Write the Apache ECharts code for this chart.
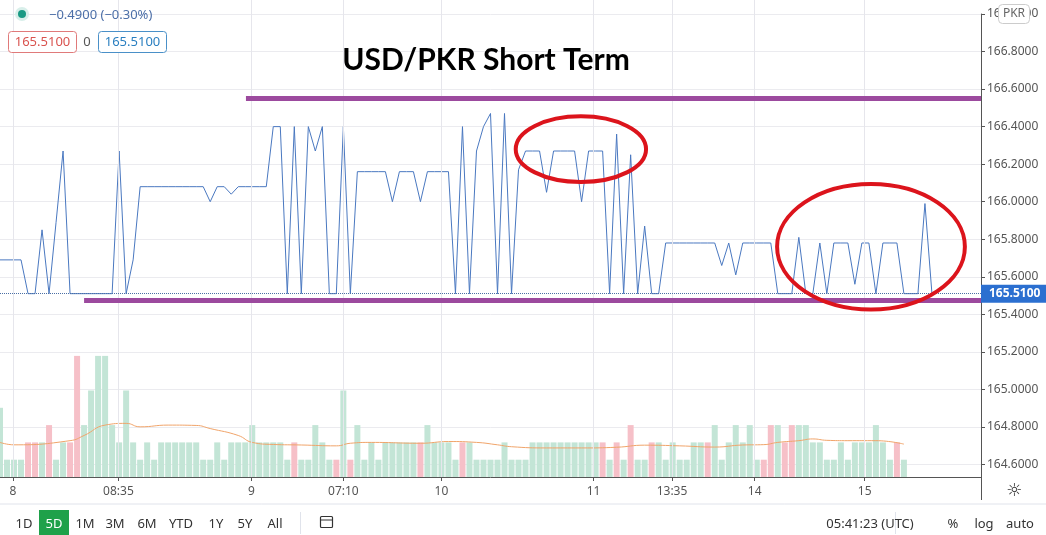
<!DOCTYPE html>
<html><head><meta charset="utf-8">
<script src="https://cdn.jsdelivr.net/npm/echarts@6/dist/echarts.min.js"></script>
<style>html,body{margin:0;padding:0;background:#fff}#c{width:1046px;height:535px}</style>
</head><body><div id="c"></div>
<script>
// ---- data (x index i -> one 5-min slot) ----
const priceValues = [165.69,
165.69,165.69,165.69,165.51,165.51,165.85,165.51,165.89,166.27,165.51,
165.51,165.51,165.51,165.51,165.51,165.51,166.27,165.51,165.69,166.08,
166.08,166.08,166.08,166.08,166.08,166.08,166.08,166.08,166.08,166.0,
166.08,166.08,166.04,166.08,166.08,166.08,166.08,166.08,166.4,166.4,
165.51,166.4,165.51,166.4,166.27,166.4,165.51,165.51,166.4,165.51,
166.16,166.16,166.16,166.16,166.16,166.0,166.16,166.16,166.16,166.0,
166.16,166.16,166.16,166.16,165.51,166.4,165.51,166.27,166.4,166.47,
165.51,166.47,165.51,166.17,166.27,166.27,166.27,166.05,166.27,166.27,
166.27,166.27,166.0,166.27,166.27,166.27,165.51,166.36,165.51,166.25,
165.51,165.87,165.51,165.51,165.78,165.78,165.78,165.78,165.78,165.78,
165.78,165.78,165.66,165.78,165.61,165.78,165.78,165.78,165.78,165.78,
165.51,165.51,165.51,165.81,165.51,165.51,165.78,165.51,165.78,165.78,
165.78,165.56,165.78,165.78,165.51,165.78,165.78,165.78,165.51,165.51,
165.51,165.99,165.51];
const volumeValues = [4,
1,1,1,2,2,2,3,1,2,2, 7,3,5,7,7,3,2,5,2,1, 2,1,2,2,2,2,2,2,1,1,
2,1,2,2,2,3,2,2,2,2, 1,2,1,1,3,2,1,1,5,1, 3,1,2,1,2,2,2,2,2,2,
3,2,2,2,1,2,2,1,1,1, 1,2,1,1,1,2,2,2,2,2, 2,2,2,2,2,2,1,2,1,3,
1,1,2,2,1,2,1,1,2,2, 2,3,1,2,3,2,3,1,1,3, 3,2,3,3,3,2,2,1,1,2,
1,2,2,2,3,2,1,2,1];
const volumeDir = "g"+
"gggrrgrggr"+"rggggggggg"+"gggggggggg"+
"gggggggggg"+"grgggggrgr"+"gggggggggr"+
"gggggrgggg"+"gggggggggg"+"gggggrgrgr"+
"ggrggggggg"+"rgggggggrr"+"grrggggggg"+
"gggggggrg";
const maPoints = [[0,2.0],[2,1.86],[10,2.1],[12,2.4],[15,3.0],[18,3.1],[20,2.9],[24,3.0],[28,2.98],[30,2.8],[34,2.4],[36,2.0],[39,1.88],[43,1.85],[48,1.8],[50,1.95],[53,2.0],[60,1.95],[64,2.05],[68,2.0],[71,1.86],[73,1.75],[78,1.68],[83,1.68],[88,1.72],[92,1.84],[97,1.8],[102,1.73],[106,1.85],[109,1.87],[111,2.0],[114,2.1],[116,2.2],[118,2.12],[121,2.1],[125,2.1],[129,1.9]];
const xTickPos = [1.86,16.9,35.9,49,63,84.7,95.9,107.7,123.4];
const xTickLabels = ['8','08:35','9','07:10','10','11','13:35','14','15'];
const lastPrice = 165.51;
const resistance = {from:35.1, to:140, value:166.55};
const support = {from:12, to:140, value:165.474};
const ellipses = [{cx:82.9, cy:166.28, rx:9.3, ry:0.175},{cx:124.3, cy:165.76, rx:13.4, ry:0.334}];
const toolbar = ['1D','5D','1M','3M','6M','YTD','1Y','5Y','All'];

const chart = echarts.init(document.getElementById('c'));
const font = "'Noto Sans', 'DejaVu Sans', sans-serif";
const labelMap = {}; xTickPos.forEach((p,i)=>labelMap[p]=xTickLabels[i]);
const tbX = [24,54,85,115,147,181,216,245,275];

chart.setOption({
  animation:false,
  textStyle:{fontFamily:font},
  grid:[
    {left:0,right:65,top:14,bottom:33},
    {left:0,right:65,top:0,bottom:58}
  ],
  xAxis:[
    {gridIndex:0,type:'value',min:0,max:140,show:false},
    {gridIndex:1,type:'value',min:0,max:140,
     axisLine:{onZero:false,lineStyle:{color:'#555'}},
     axisTick:{show:true,customValues:xTickPos,length:4,lineStyle:{color:'#555'}},
     axisLabel:{customValues:xTickPos,formatter:v=>labelMap[v]||'',color:'#555',fontSize:12,margin:9},
     splitLine:{show:false}}
  ],
  yAxis:[
    {gridIndex:0,type:'value',position:'right',min:164.4,max:167.0,interval:0.2,
     axisLine:{show:true,onZero:false,lineStyle:{color:'#555'}},
     axisTick:{show:true,length:4,lineStyle:{color:'#555'}},
     axisLabel:{color:'#555',fontSize:12,margin:6,formatter:v=>v<164.5?'':v.toFixed(4)},
     splitLine:{lineStyle:{color:'#ebebef'}}},
    {gridIndex:1,type:'value',min:0,max:27.57,show:false,splitLine:{show:false}}
  ],
  series:[
    {type:'bar',xAxisIndex:1,yAxisIndex:1,barWidth:6,z:1,
     data:volumeValues.map((v,i)=>({value:[i,v],itemStyle:{color:volumeDir[i]==='r'?'#f6c0c8':'#c3e5d6'}})),
     markLine:{silent:true,symbol:'none',label:{show:false},lineStyle:{color:'#e6e6ec',type:'solid',width:1},
       data:xTickPos.map(p=>({xAxis:p}))}},
    {type:'line',xAxisIndex:1,yAxisIndex:1,data:maPoints,smooth:true,showSymbol:false,z:3,
     lineStyle:{color:'#f0a46a',width:1}},
    {type:'line',xAxisIndex:0,yAxisIndex:0,data:priceValues.map((v,i)=>[i,v]),showSymbol:false,z:4,
     lineStyle:{color:'#4a78c0',width:1},
     markLine:{silent:true,symbol:'none',
       lineStyle:{color:'#4a6fa5',type:'dotted',width:1},
       label:{show:true,position:'end',formatter:lastPrice.toFixed(4),color:'#fff',fontWeight:'bold',fontSize:12,backgroundColor:'#2b6fd0',padding:[3,6,3,8],distance:0},
       data:[{yAxis:lastPrice}]}},
    {type:'line',xAxisIndex:0,yAxisIndex:0,data:[[resistance.from,resistance.value],[resistance.to,resistance.value]],showSymbol:false,z:5,lineStyle:{color:'#9c4a9e',width:5}},
    {type:'line',xAxisIndex:0,yAxisIndex:0,data:[[support.from,support.value],[support.to,support.value]],showSymbol:false,z:5,lineStyle:{color:'#9c4a9e',width:5}}
  ]
});

const gfx = [];
ellipses.forEach(e=>{
  const c = chart.convertToPixel({gridIndex:0},[e.cx,e.cy]);
  const r = chart.convertToPixel({gridIndex:0},[e.cx+e.rx,e.cy+e.ry]);
  gfx.push({type:'ellipse',shape:{cx:c[0],cy:c[1],rx:r[0]-c[0],ry:c[1]-r[1]},style:{fill:null,stroke:'#dc141c',lineWidth:4},z:50});
});
gfx.push({type:'rect',shape:{x:0,y:500,width:1046,height:35},style:{fill:'#fff'},z:60});
gfx.push({type:'line',shape:{x1:0,y1:504,x2:1046,y2:504},style:{stroke:'#e0e3eb',lineWidth:1},z:61});
gfx.push({type:'text',style:{text:'USD/PKR Short Term',x:486,y:60,font:"bold 30px Lato, 'Open Sans', sans-serif",fill:'#000',textAlign:'center',textVerticalAlign:'middle'},z:70});
// header
gfx.push({type:'circle',shape:{cx:22,cy:14,r:7},style:{fill:'#d8efea'},z:70});
gfx.push({type:'circle',shape:{cx:22,cy:14,r:4},style:{fill:'#1a9a84'},z:71});
gfx.push({type:'text',style:{text:'−0.4900 (−0.30%)',x:49,y:15,font:'13px '+font,fill:'#4c6fa8',textVerticalAlign:'middle'},z:70});
gfx.push({type:'rect',shape:{x:8.5,y:31.5,width:68,height:21,r:3},style:{fill:'#fff',stroke:'#e07a7a'},z:70});
gfx.push({type:'text',style:{text:'165.5100',x:42.5,y:42,font:'13px '+font,fill:'#d9534f',textAlign:'center',textVerticalAlign:'middle'},z:71});
gfx.push({type:'text',style:{text:'0',x:87,y:42,font:'13px '+font,fill:'#555',textAlign:'center',textVerticalAlign:'middle'},z:71});
gfx.push({type:'rect',shape:{x:98.5,y:31.5,width:68,height:21,r:3},style:{fill:'#fff',stroke:'#4a90c8'},z:70});
gfx.push({type:'text',style:{text:'165.5100',x:132.5,y:42,font:'13px '+font,fill:'#2a7fc0',textAlign:'center',textVerticalAlign:'middle'},z:71});
// PKR tag
gfx.push({type:'rect',shape:{x:998.5,y:4.5,width:31,height:19,r:4},style:{fill:'#fff',stroke:'#ccc'},z:70});
gfx.push({type:'text',style:{text:'PKR',x:1014,y:14,font:'12px '+font,fill:'#666',textAlign:'center',textVerticalAlign:'middle'},z:71});
// settings icon
gfx.push({type:'text',style:{text:'☼',x:1014,y:491,font:'18px DejaVu Sans',fill:'#333',textAlign:'center',textVerticalAlign:'middle'},z:70});
// toolbar
toolbar.forEach((t,i)=>{
  if(t==='5D') gfx.push({type:'rect',shape:{x:39,y:510,width:30,height:25},style:{fill:'#1fa14a'},z:70});
  gfx.push({type:'text',style:{text:t,x:tbX[i],y:524,font:'13px '+font,fill:t==='5D'?'#fff':'#333',textAlign:'center',textVerticalAlign:'middle'},z:71});
});
gfx.push({type:'line',shape:{x1:300.5,y1:512,x2:300.5,y2:534},style:{stroke:'#e0e3eb'},z:70});
gfx.push({type:'rect',shape:{x:320.5,y:516.5,width:12,height:11,r:1},style:{fill:null,stroke:'#333',lineWidth:1.2},z:70});
gfx.push({type:'line',shape:{x1:320.5,y1:520,x2:332.5,y2:520},style:{stroke:'#333'},z:70});
gfx.push({type:'text',style:{text:'05:41:23 (UTC)',x:870,y:524,font:'13px '+font,fill:'#333',textAlign:'center',textVerticalAlign:'middle'},z:71});
gfx.push({type:'line',shape:{x1:895.5,y1:512,x2:895.5,y2:534},style:{stroke:'#e0e3eb'},z:70});
[['%',953],['log',984],['auto',1020]].forEach(a=>gfx.push({type:'text',style:{text:a[0],x:a[1],y:524,font:'13px '+font,fill:'#333',textAlign:'center',textVerticalAlign:'middle'},z:71}));
chart.setOption({graphic:gfx});
</script></body></html>
